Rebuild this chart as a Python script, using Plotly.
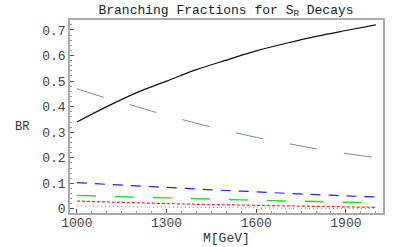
import plotly.graph_objects as go

mass = [1000, 1100, 1200, 1300, 1400, 1500, 1600, 1700, 1800, 1900, 2000]
br_black = [0.34, 0.40, 0.455, 0.50, 0.545, 0.582, 0.618, 0.648, 0.675, 0.698, 0.72]
br_gray = [0.47, 0.433, 0.40, 0.366, 0.335, 0.306, 0.28, 0.257, 0.235, 0.217, 0.20]
br_blue = [0.103, 0.096, 0.090, 0.084, 0.078, 0.072, 0.067, 0.061, 0.056, 0.051, 0.047]
br_green = [0.053, 0.049, 0.046, 0.043, 0.040, 0.037, 0.034, 0.031, 0.029, 0.026, 0.024]
br_red = [0.031, 0.027, 0.024, 0.021, 0.018, 0.016, 0.014, 0.012, 0.010, 0.008, 0.006]
br_dark = [0.012, 0.010, 0.008, 0.007, 0.006, 0.005, 0.004, 0.003, 0.003, 0.002, 0.002]

y_ticks = [0, 0.1, 0.2, 0.3, 0.4, 0.5, 0.6, 0.7]
y_ticktext = ["0", "0.1", "0.2", "0.3", "0.4", "0.5", "0.6", "0.7"]
x_ticks = [1000, 1300, 1600, 1900]

FONT = "Liberation Mono, Courier New, monospace"

fig = go.Figure()
series = [
    (br_gray, "#6f9090", "28px,27px", 1.0),
    (br_blue, "#2020ff", "10px,8px", 1.2),
    (br_green, "#22dd22", "19px,19px", 1.4),
    (br_red, "#ff2020", "3px,2px", 1.2),
    (br_dark, "#444444", "1px,3px", 0.7),
    (br_black, "#111111", "solid", 1.2),
]
for ys, col, dash, w in series:
    fig.add_trace(go.Scatter(x=mass, y=ys, mode="lines", line=dict(color=col, dash=dash, width=w, shape="spline"),
                             showlegend=False, hoverinfo="skip"))

L, R, T, B = 70, 17, 20, 34
W, H = 400, 247
pw, ph = W - L - R, H - T - B

def px_to_paper(x, y):
    return (x - L) / pw, (H - B - y) / ph

bx, by = px_to_paper(22, 127)
mx, my = px_to_paper(226, 238)

fig.update_layout(
    width=W, height=H,
    margin=dict(l=L, r=R, t=T, b=B),
    paper_bgcolor="white", plot_bgcolor="white",
    font=dict(family=FONT, size=12, color="#333"),
    title=dict(text="Branching Fractions for S<sub>R</sub> Decays", x=226 / W, xanchor="center",
               xref="container", y=1 - 9 / H, yanchor="middle", yref="container",
               font=dict(family=FONT, size=13, color="#222")),
    xaxis=dict(range=[977, 2024], tickvals=x_ticks, ticks="inside", ticklen=4, tickcolor="#555",
               showgrid=False, zeroline=False, showline=True, linecolor="#aaaaaa", linewidth=1.5, mirror=True,
               minor=dict(ticks="inside", ticklen=2, dtick=50, tickcolor="#999"), ticklabelstandoff=-3,
               tickfont=dict(family=FONT, size=13, color="#444")),
    yaxis=dict(range=[-0.016, 0.739], tickvals=y_ticks, ticktext=y_ticktext, ticks="inside", ticklen=4,
               tickcolor="#555", showgrid=False, zeroline=False, showline=True, linecolor="#aaaaaa", linewidth=1.5,
               mirror=True, minor=dict(ticks="inside", ticklen=2, dtick=0.02, tickcolor="#999"),
               tickfont=dict(family=FONT, size=13, color="#444")),
    annotations=[
        dict(text="BR", x=bx, y=by, xref="paper", yref="paper", xanchor="center", yanchor="middle",
             showarrow=False, font=dict(family=FONT, size=12, color="#333")),
        dict(text="M[GeV]", x=mx, y=my, xref="paper", yref="paper", xanchor="center", yanchor="middle",
             showarrow=False, font=dict(family=FONT, size=13, color="#333")),
    ],
)
fig.write_html("out.html", config={"displayModeBar": False},
               post_script="document.body.style.margin='0px';document.body.style.overflow='hidden';")
